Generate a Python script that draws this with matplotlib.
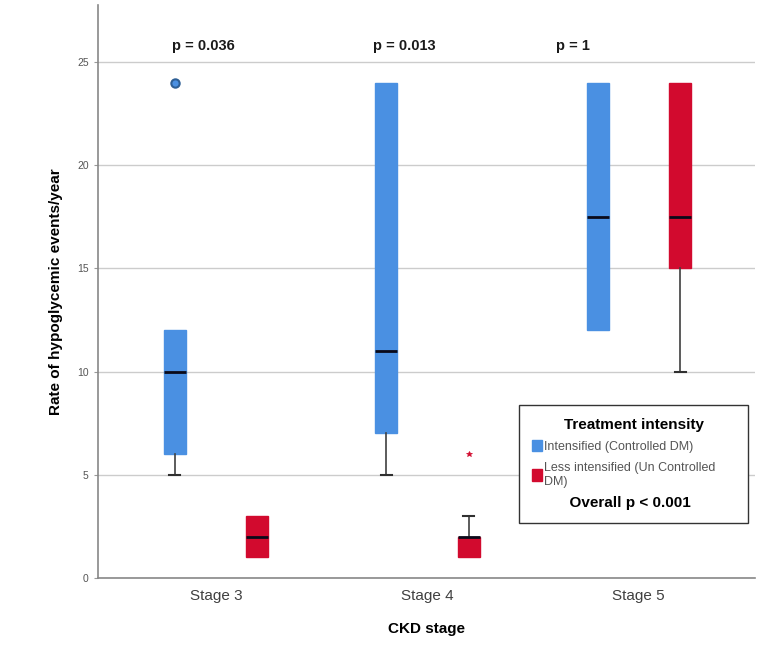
import matplotlib
matplotlib.use("Agg")
import matplotlib.pyplot as plt
from matplotlib.patches import Patch

plt.rcParams["font.family"] = ["Liberation Sans", "DejaVu Sans"]

# data
stages = ["Stage 3", "Stage 4", "Stage 5"]
groups = ["Intensified (Controlled DM)", "Less intensified (Un Controlled\nDM)"]
colors = ["#4a90e2", "#d20a2e"]

# (whislo, q1, med, q3, whishi) per stage
intens = [(5, 6, 10, 12, 12), (5, 7, 11, 24, 24), (12, 12, 17.5, 24, 24)]
less = [(1, 1, 2, 3, 3), (1, 1, 2, 2, 3), (10, 15, 17.5, 24, 24)]
intens_out = [[24], [], []]
less_out = [[], [6], []]

p_stage = ["p = 0.036", "p = 0.013", "p = 1"]
p_x = [-0.06, 0.89, 1.69]
overall_p = "Overall p < 0.001"


def stats(rows, outs):
    return [dict(whislo=r[0], q1=r[1], med=r[2], q3=r[3], whishi=r[4], fliers=o)
            for r, o in zip(rows, outs)]


fig = plt.figure(figsize=(7.76, 6.45), dpi=100)
ax = fig.add_axes([0.126, 0.104, 0.847, 0.888])

off, w = 0.195, 0.104
pos = list(range(len(stages)))
for k, (rows, outs, sym) in enumerate([(intens, intens_out, "o"),
                                       (less, less_out, "*")]):
    shift = -off if k == 0 else off
    bp = ax.bxp(stats(rows, outs), positions=[p + shift for p in pos],
                widths=w, patch_artist=True, showcaps=True,
                boxprops=dict(facecolor=colors[k], edgecolor=colors[k], lw=1),
                medianprops=dict(color="#0a0a1a", lw=2),
                whiskerprops=dict(color="#404040", lw=1.2),
                capprops=dict(color="#303030", lw=1.5),
                capwidths=w * 0.5,
                flierprops=dict(marker=sym, markerfacecolor=colors[k],
                                markeredgecolor="#2e5f95" if k == 0 else colors[k],
                                markersize=6 if k == 0 else 4,
                                mew=1.5 if k == 0 else 0.5),
                zorder=3)
    # no cap where the whisker has zero length
    for i, r in enumerate(rows):
        if r[0] == r[1]:
            bp["caps"][2 * i].set_visible(False)
        if r[4] == r[3]:
            bp["caps"][2 * i + 1].set_visible(False)

ax.set_xlim(-0.56, 2.55)
ax.set_ylim(0, 27.76)
ax.set_xticks(pos, stages, fontsize=11, color="#404040")
ax.set_yticks([0, 5, 10, 15, 20, 25])
ax.tick_params(axis="y", labelsize=7.5, labelcolor="#555555", length=3, color="#999999")
ax.tick_params(axis="x", length=0, pad=8)
ax.grid(axis="y", color="#cccccc", lw=1, zorder=0)
for s in ["top", "right"]:
    ax.spines[s].set_visible(False)
for s in ["left", "bottom"]:
    ax.spines[s].set_color("#888888")
    ax.spines[s].set_linewidth(1.2)

ax.set_ylabel("Rate of hypoglycemic events/year", fontsize=11, fontweight="bold",
              labelpad=10)
ax.set_xlabel("CKD stage", fontsize=11, fontweight="bold", labelpad=14)

for x, t in zip(p_x, p_stage):
    ax.text(x, 25.8, t, ha="center", va="center", fontsize=10.5, fontweight="bold",
            color="#1a1a1a")

handles = [Patch(facecolor=c, edgecolor=c) for c in colors]
handles.append(Patch(facecolor="none", edgecolor="none"))
leg = ax.legend(handles, groups + [overall_p], title="Treatment intensity",
                loc="lower left", bbox_to_anchor=(0.641, 0.096, 0.349, 0.215),
                mode="expand", fontsize=9,
                title_fontproperties=dict(weight="bold", size=11),
                handlelength=0.8, handleheight=1.0, handletextpad=0.2,
                borderaxespad=0, borderpad=1.0, labelspacing=0.7, fancybox=False,
                framealpha=1, edgecolor="#333333")
leg.get_frame().set_linewidth(1.0)
for txt in leg.get_texts()[:2]:
    txt.set_color("#555555")
last = leg.get_texts()[2]
last.set_fontweight("bold")
last.set_fontsize(11)
last.set_text("      " + overall_p)

fig.savefig("out.png", dpi=100)
